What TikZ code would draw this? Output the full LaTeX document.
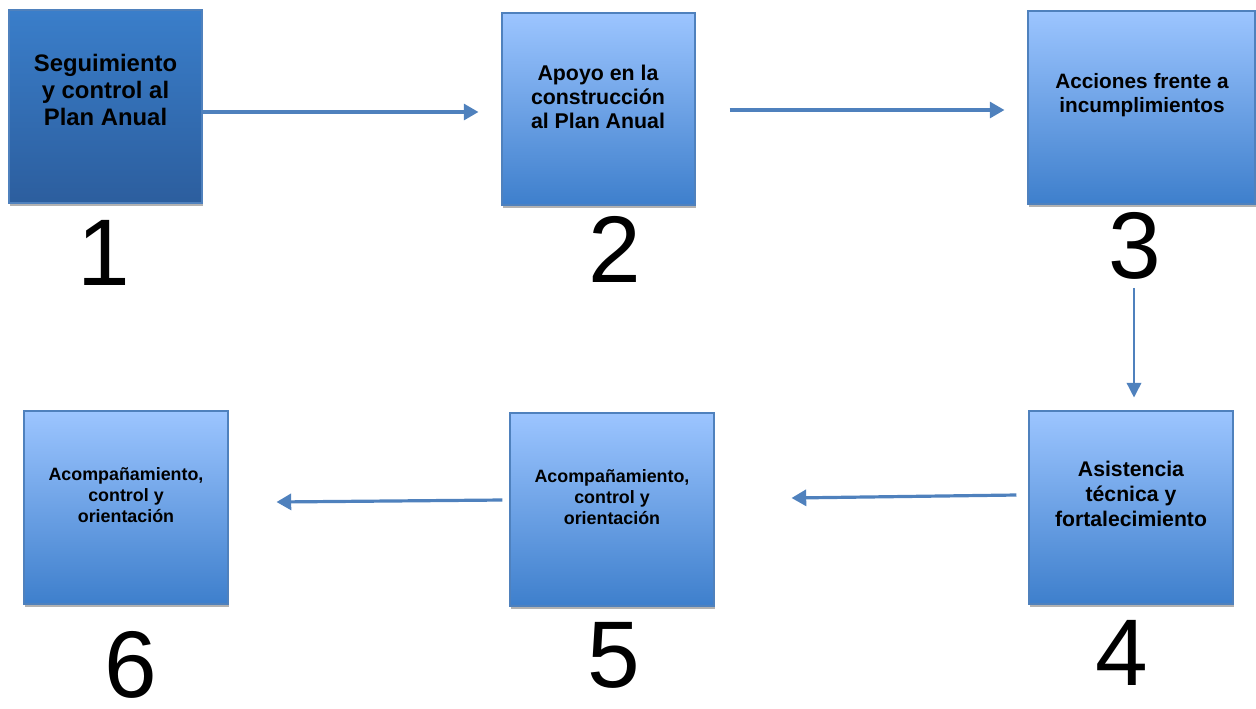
\documentclass[tikz,border=0pt]{standalone}
\usepackage{fontspec}
\setmainfont{Liberation Sans}
\usetikzlibrary{arrows.meta,shadows,calc}
\definecolor{edge}{RGB}{79,129,189}
\definecolor{darktop}{RGB}{58,126,202}
\definecolor{darkbot}{RGB}{44,94,158}
\definecolor{lighttop}{RGB}{156,197,255}
\definecolor{lightbot}{RGB}{62,127,204}
\tikzset{
  box/.style={draw=edge, line width=0.8pt, inner sep=0pt, top color=lighttop, bottom color=lightbot,
    drop shadow={shadow xshift=1pt, shadow yshift=-2pt, opacity=0.3, fill=black}},
  darkbox/.style={box, top color=darktop, bottom color=darkbot},
  boxtext/.style={align=center, inner sep=0pt, font=\bfseries},
  numtext/.style={inner sep=0pt, font=\fontsize{71}{71}\selectfont},
  arr/.style={draw=edge, line width=2.4pt, -{Triangle[length=11pt,width=12pt]}},
  thinarr/.style={draw=edge, line width=1.1pt, -{Triangle[length=11pt,width=11pt]}},
}
\begin{document}
\begin{tikzpicture}[x=0.75pt,y=-0.75pt]
\path[use as bounding box] (0,0) rectangle (1256,708);
% boxes
\node[darkbox, minimum width=144.75pt, minimum height=144.75pt] (b1) at (105.5,106.5) {};
\node[box, minimum width=144.75pt, minimum height=144pt] (b2) at (598.5,109) {};
\node[box, minimum width=170.25pt, minimum height=144.75pt] (b3) at (1141.5,107.5) {};
\node[box, minimum width=153pt, minimum height=144.75pt] (b4) at (1131,507.5) {};
\node[box, minimum width=153pt, minimum height=144.75pt] (b5) at (612,509.5) {};
\node[box, minimum width=153pt, minimum height=144.75pt] (b6) at (126,507.5) {};
% texts
\node[boxtext, font=\bfseries\fontsize{17.9}{20.2}\selectfont] (t1) at (105.5,90) {Seguimiento\\y control al\\Plan Anual};
\node[boxtext, font=\bfseries\fontsize{16}{18}\selectfont] (t2) at (598,97) {Apoyo en la\\construcción\\al Plan Anual};
\node[boxtext, font=\bfseries\fontsize{15.6}{18}\selectfont] (t3) at (1142,95) {Acciones frente a\\incumplimientos};
\node[boxtext, font=\bfseries\fontsize{15.9}{18.6}\selectfont] (t4) at (1131,494) {Asistencia\\técnica y\\fortalecimiento};
\node[boxtext, font=\bfseries\fontsize{13.4}{15.9}\selectfont] (t5) at (612,497) {Acompañamiento,\\control y\\orientación};
\node[boxtext, font=\bfseries\fontsize{13.4}{15.9}\selectfont] (t6) at (126,495) {Acompañamiento,\\control y\\orientación};
% numbers
\node[numtext] (n1) at (104,253) {1};
\node[numtext] (n2) at (615,249) {2};
\node[numtext] (n3) at (1135,246) {3};
\node[numtext] (n4) at (1122,653) {4};
\node[numtext] (n5) at (614,655) {5};
\node[numtext] (n6) at (131,665) {6};
% connectors
\draw[arr] ($(b1.east)+(0,5.5)$) -- ($(b2.west)+(-23,3)$);
\draw[arr] ($(b2.east)+(34,1)$) -- ($(b3.west)+(-23,2.5)$);
\draw[thinarr] ($(n3.south)+(-1,8)$) -- ($(b4.north)+(3,-13)$);
\draw[arr] ($(b4.west)+(-12,-12.5)$) -- ($(b5.east)+(77,-11.5)$);
\draw[arr] ($(b5.west)+(-7,-9.5)$) -- ($(b6.east)+(48,-5.5)$);
\end{tikzpicture}
\end{document}
